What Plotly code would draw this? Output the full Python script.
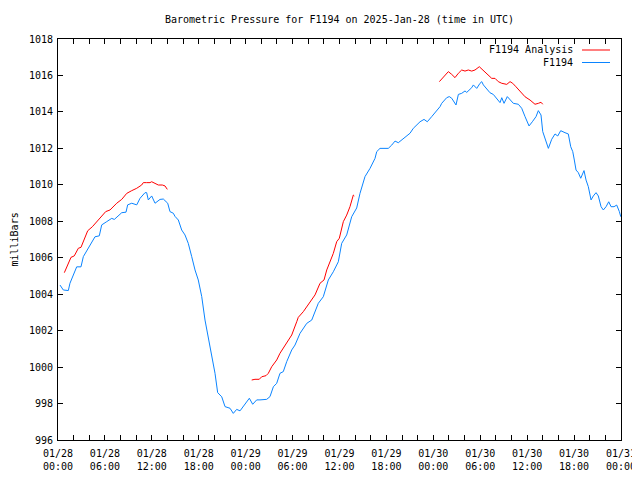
import pandas as pd
import plotly.graph_objects as go

# Hours since 2025-01-28 00:00 UTC, and pressure in milliBars
obs_hours = [0.26, 0.68, 1.32, 1.53, 2.39, 2.94, 3.24, 4.09, 4.73, 5.28, 5.59, 6.23, 6.87, 7.20,
             8.15, 8.70, 8.91, 9.43, 10.07, 10.49, 11.13, 11.34, 11.55, 11.98, 12.41, 13.05, 13.47,
             14.03, 14.32, 14.75, 14.96, 15.39, 15.82, 16.24, 16.66, 17.10, 17.52, 17.94, 18.38,
             18.80, 19.22, 19.66, 20.08, 20.42, 20.94, 21.36, 22.00, 22.42, 22.85, 23.28, 23.92,
             24.47, 24.90, 25.41, 25.83, 26.69, 27.11, 27.54, 27.97, 28.39, 28.81, 29.25, 29.89,
             30.31, 30.95, 31.81, 32.45, 32.87, 33.29, 33.93, 34.57, 35.21, 35.85, 36.28, 36.92,
             37.56, 38.20, 38.62, 39.26, 39.90, 40.54, 40.76, 41.18, 41.82, 42.24, 42.68, 43.10,
             43.52, 43.96, 44.38, 45.02, 45.44, 45.88, 46.30, 46.81, 47.23, 47.79, 48.34, 48.86,
             49.07, 49.71, 50.04, 50.35, 50.90, 51.20, 51.63, 52.05, 52.27, 52.91, 53.12, 53.55,
             53.97, 54.19, 54.40, 54.83, 55.25, 55.67, 56.11, 56.53, 56.75, 57.04, 57.46, 57.81,
             58.23, 58.87, 59.30, 59.73, 60.24, 60.66, 61.13, 61.43, 61.77, 61.99, 62.28, 62.71,
             63.14, 63.56, 63.91, 64.29, 64.84, 65.26, 65.57, 65.83, 66.03, 66.25, 66.54, 66.85,
             67.27, 67.53, 67.82, 68.17, 68.46, 68.81, 69.10, 69.45, 69.74, 70.09, 70.43, 70.73,
             71.11, 71.45, 71.79, 71.97]
obs_mb = [1004.50, 1004.23, 1004.20, 1004.60, 1005.50, 1005.50, 1006.06, 1006.70, 1007.15, 1007.20,
          1007.80, 1007.98, 1008.16, 1008.10, 1008.47, 1008.50, 1008.90, 1008.99, 1008.90, 1009.26,
          1009.57, 1009.57, 1009.17, 1009.39, 1008.99, 1009.20, 1009.22, 1008.99, 1008.53, 1008.44,
          1008.27, 1008.07, 1007.52, 1007.25, 1006.79, 1006.06, 1005.33, 1004.78, 1003.87, 1002.58,
          1001.67, 1000.57, 999.66, 998.60, 998.37, 997.83, 997.74, 997.46, 997.68, 997.60,
          998.00, 998.29, 997.96, 998.20, 998.20, 998.23, 998.38, 998.92, 999.11, 999.66,
          999.75, 1000.30, 1000.94, 1001.21, 1001.85, 1002.40, 1002.58, 1003.04, 1003.50, 1003.86,
          1004.78, 1005.23, 1005.78, 1006.79, 1007.25, 1008.25, 1008.73, 1009.53, 1010.45, 1010.90,
          1011.45, 1011.82, 1012.00, 1012.00, 1012.00, 1012.18, 1012.40, 1012.31, 1012.46, 1012.64,
          1012.83, 1013.10, 1013.28, 1013.46, 1013.59, 1013.46, 1013.74, 1014.01, 1014.29,
          1014.47, 1014.78, 1014.84, 1014.75, 1014.38, 1014.96, 1015.02, 1015.15, 1015.07, 1015.33,
          1015.48, 1015.29, 1015.57, 1015.66, 1015.48, 1015.24, 1015.05, 1014.96, 1014.75, 1014.51,
          1014.78, 1014.47, 1014.84, 1014.65, 1014.47, 1014.42, 1014.20, 1013.74, 1013.23, 1013.46,
          1013.74, 1014.07, 1013.83, 1012.92, 1012.55, 1012.00, 1012.50, 1012.79, 1012.68, 1012.97,
          1012.86, 1012.79, 1012.09, 1011.82, 1011.36, 1010.81, 1010.67, 1010.36, 1010.78, 1010.26,
          1009.90, 1009.17, 1009.39, 1009.57, 1009.39, 1008.80, 1008.62, 1008.80, 1009.07, 1008.80,
          1008.80, 1008.89, 1008.53, 1008.25]

ana1_hours = [0.81, 1.32, 1.66, 2.08, 2.60, 2.94, 3.36, 3.80, 4.39, 5.15, 5.79, 6.10, 6.65, 7.51,
              8.15, 8.79, 9.43, 10.07, 10.70, 10.91, 11.34, 11.77, 11.98, 12.41, 12.83, 13.34,
              13.68, 13.98]
ana1_mb = [1005.18, 1005.69, 1006.02, 1006.10, 1006.52, 1006.57, 1006.97, 1007.48, 1007.70, 1008.07,
           1008.38, 1008.53, 1008.62, 1008.99, 1009.20, 1009.53, 1009.68, 1009.81, 1009.99, 1010.12,
           1010.12, 1010.12, 1010.17, 1010.08, 1009.99, 1009.99, 1009.94, 1009.75]
ana2_hours = [24.77, 25.19, 25.74, 26.05, 26.60, 26.90, 27.33, 27.97, 28.39, 28.81, 29.25, 29.89,
              30.53, 30.73, 31.37, 31.81, 32.45, 32.87, 33.51, 34.02, 34.37, 34.79, 35.21, 35.64,
              35.98, 36.49, 36.92, 37.34, 37.77, 37.89]
ana2_mb = [999.29, 999.33, 999.33, 999.47, 999.53, 999.66, 1000.02, 1000.39, 1000.76, 1001.03,
           1001.31, 1001.76, 1002.49, 1002.73, 1003.04, 1003.31, 1003.68, 1003.96, 1004.60, 1004.78,
           1005.33, 1005.78, 1006.24, 1006.88, 1007.07, 1007.98, 1008.34, 1008.80, 1009.44, 1009.39]
ana3_hours = [48.77, 49.28, 49.92, 50.35, 50.77, 51.20, 51.63, 52.05, 52.47, 52.91, 53.33, 53.88,
              54.19, 54.61, 55.03, 55.47, 55.89, 56.31, 56.75, 57.39, 57.81, 58.15, 58.57, 59.09,
              59.73, 60.37, 61.00, 61.43, 61.77, 61.99]
ana3_mb = [1015.66, 1015.88, 1016.21, 1016.06, 1015.88, 1016.12, 1016.30, 1016.24, 1016.30, 1016.24,
           1016.30, 1016.48, 1016.35, 1016.21, 1015.99, 1015.84, 1015.84, 1015.66, 1015.57, 1015.51,
           1015.66, 1015.57, 1015.38, 1015.11, 1014.83, 1014.65, 1014.42, 1014.47, 1014.53, 1014.42]

tick_labels = ["01/28<br>00:00", "01/28<br>06:00", "01/28<br>12:00", "01/28<br>18:00",
               "01/29<br>00:00", "01/29<br>06:00", "01/29<br>12:00", "01/29<br>18:00",
               "01/30<br>00:00", "01/30<br>06:00", "01/30<br>12:00", "01/30<br>18:00",
               "01/31<br>00:00"]

base = pd.Timestamp("2025-01-28 00:00")


def to_time(hours):
    return list(base + pd.to_timedelta(hours, unit="h"))


ana_x, ana_y = [], []
for hrs, vals in [(ana1_hours, ana1_mb), (ana2_hours, ana2_mb), (ana3_hours, ana3_mb)]:
    if ana_x:
        ana_x.append(None)
        ana_y.append(None)
    ana_x += to_time(hrs)
    ana_y += vals

RED = "#ff0000"
BLUE = "#0a84ff"
FONT = "DejaVu Sans Mono"

fig = go.Figure()
fig.add_trace(go.Scatter(x=ana_x, y=ana_y, mode="lines", name="F1194 Analysis",
                         line=dict(color=RED, width=1), showlegend=False))
fig.add_trace(go.Scatter(x=to_time(obs_hours), y=obs_mb, mode="lines", name="F1194",
                         line=dict(color=BLUE, width=1), showlegend=False))

tickvals = list(pd.date_range(base, periods=37, freq="2h"))
ticktext = []
for i in range(37):
    ticktext.append(tick_labels[i // 3] if i % 3 == 0 else "")

# page body has an 8px margin, so the figure is placed at (8, 8); keep page within the window
W, H = 632, 464
fig.update_layout(
    width=W, height=H,
    margin=dict(l=50, r=19, t=31, b=32, autoexpand=False),
    paper_bgcolor="white", plot_bgcolor="white",
    font=dict(family=FONT, size=10, color="black"),
    title=dict(text="Barometric Pressure for F1194 on 2025-Jan-28 (time in UTC)",
               x=0.5, xref="paper", xanchor="center", y=1 - 11 / H, yanchor="middle",
               font=dict(family=FONT, size=10, color="black")),
    xaxis=dict(range=[base, base + pd.Timedelta(hours=72)], tickmode="array",
               tickvals=tickvals, ticktext=ticktext, ticks="inside", ticklen=5,
               tickcolor="black", showline=True, linecolor="black", linewidth=1,
               mirror="ticks", showgrid=False, zeroline=False, ticklabelstandoff=4,
               tickfont=dict(family=FONT, size=10)),
    yaxis=dict(range=[996, 1018], dtick=2, tick0=996, ticks="inside", ticklen=5,
               tickcolor="black", showline=True, linecolor="black", linewidth=1,
               mirror="ticks", showgrid=False, zeroline=False, tickformat="d",
               ticklabelstandoff=2, tickfont=dict(family=FONT, size=10)),
    showlegend=False,
)

fig.add_annotation(text="milliBars", xref="paper", yref="paper", x=(14 - 58) / 563, y=0.5,
                   textangle=-90, showarrow=False, xanchor="center", yanchor="middle",
                   font=dict(family=FONT, size=10))

# key (gnuplot style: text then line sample)
for label, color, ypx in [("F1194 Analysis", RED, 50), ("F1194", BLUE, 62.5)]:
    yp = (440 - ypx) / 401
    fig.add_annotation(text=label, xref="paper", yref="paper", x=(575 - 58) / 563, y=yp,
                       showarrow=False, xanchor="right", yanchor="middle",
                       font=dict(family=FONT, size=10))
    fig.add_shape(type="line", xref="paper", yref="paper", x0=(582 - 58) / 563,
                  x1=(610 - 58) / 563, y0=yp, y1=yp, line=dict(color=color, width=1))

fig.write_html("out.html")
